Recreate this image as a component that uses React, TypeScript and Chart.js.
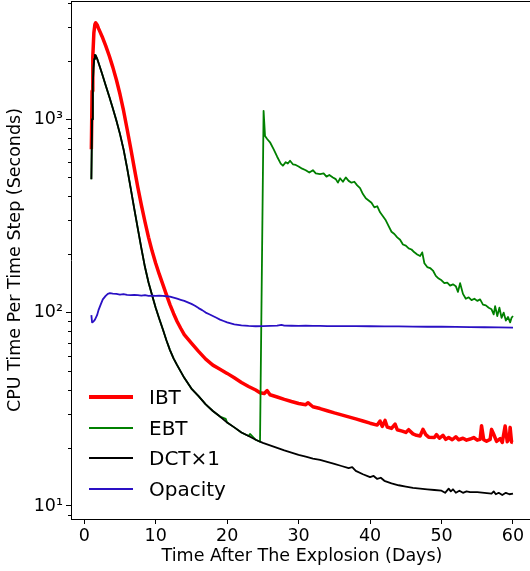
import React, { useEffect, useRef } from "react";
import { Chart, registerables } from "chart.js";

Chart.register(...registerables);

// ---------- data ----------
const ibtX = [1.0, 1.1, 1.2, 1.35, 1.5, 1.6, 1.8, 2.0, 2.5, 3.0, 3.5, 4.0, 4.5, 5.0, 5.5, 6.0, 6.5, 7.0, 7.5, 8.0, 8.5, 9.0, 9.5, 10, 10.5, 11, 11.5, 12, 12.5, 13, 13.5, 14, 15, 16, 17, 18, 19, 20, 21, 22, 23, 24, 24.6, 25.2, 25.6, 26, 27, 28, 29, 30, 31, 31.3, 32, 33, 34, 35, 36, 37, 38, 39, 40, 41, 41.4, 41.7, 42.1, 42.4, 43, 43.5, 43.8, 44.5, 45, 45.4, 46, 46.5, 47, 47.4, 47.8, 48.2, 49, 49.3, 49.7, 50.2, 50.6, 51, 51.5, 52, 52.4, 53, 53.5, 54, 54.5, 55, 55.4, 55.6, 55.9, 56.3, 56.8, 57.0, 57.3, 57.7, 58.2, 58.5, 58.9, 59.2, 59.5, 59.6, 59.8, 60];
const ibtY = [700, 1400, 2100, 2800, 3100, 3150, 3080, 2950, 2680, 2400, 2130, 1860, 1600, 1350, 1110, 890, 710, 560, 445, 360, 295, 245, 208, 180, 158, 140, 124, 110, 99, 90, 83, 77, 69.5, 63, 57.5, 53.5, 51, 48.5, 46, 43.5, 41.5, 39.8, 38.5, 38.2, 39.5, 37.6, 36.6, 35.6, 34.7, 33.9, 33.4, 34.2, 32.6, 31.9, 31.1, 30.3, 29.6, 28.9, 28.2, 27.5, 26.8, 26.2, 27.5, 25.8, 27.7, 25.6, 25.2, 26.5, 24.8, 24.4, 24.0, 24.8, 23.6, 23.2, 23.0, 24.9, 23.4, 22.7, 22.6, 23.4, 22.4, 23.2, 22.1, 22.6, 22.0, 22.8, 22.0, 22.4, 21.9, 22.2, 22.6, 21.9, 22.1, 26.0, 22.0, 21.6, 22.1, 24.9, 23.5, 21.6, 22.3, 21.3, 25.9, 21.5, 22.5, 25.5, 21.4, 21.3];

const ebtX = [1.0, 1.1, 1.2, 1.3, 1.4, 1.5, 1.6, 1.8, 2.0, 2.5, 3.0, 3.5, 4.0, 4.5, 5.0, 5.5, 6.0, 6.5, 7.0, 7.5, 8.0, 8.5, 9.0, 9.5, 10, 10.5, 11, 11.5, 12, 12.5, 13, 14, 15, 16, 17, 18, 19, 19.8, 20, 21, 22, 23, 23.2, 24, 24.6, 25.1, 25.3, 25.6, 26.0, 26.5, 27.0, 27.5, 27.8, 28.2, 28.5, 28.8, 29.2, 29.6, 30, 30.5, 31, 31.5, 32, 32.4, 33, 33.5, 33.9, 34.3, 34.8, 35.2, 35.5, 35.8, 36.2, 36.6, 37, 37.4, 37.8, 38.2, 38.6, 39, 39.4, 39.8, 40.2, 40.6, 41, 41.4, 41.8, 42.2, 42.6, 43, 43.4, 43.8, 44.2, 44.6, 45, 45.4, 45.8, 46.2, 46.6, 47, 47.3, 47.6, 48, 48.4, 48.8, 49.2, 49.6, 50, 50.4, 50.8, 51.2, 51.6, 52, 52.3, 52.6, 53, 53.4, 53.8, 54.2, 54.6, 55, 55.4, 55.8, 56.2, 56.6, 57, 57.3, 57.5, 57.8, 58.1, 58.4, 58.7, 59, 59.3, 59.6, 59.8, 60];
const ebtY = [490, 1000, 1500, 1850, 2050, 2150, 2140, 2060, 1960, 1720, 1500, 1310, 1140, 985, 840, 700, 560, 440, 345, 272, 215, 172, 143, 123, 106, 93, 82, 72, 64, 58, 53.5, 46, 40.5, 37, 33.5, 31, 29, 28.2, 27, 25.5, 24, 23, 23.6, 22, 21.5, 1105, 820, 790, 760, 700, 640, 590, 575, 600, 590, 610, 585, 580, 570, 555, 545, 530, 545, 525, 520, 525, 505, 515, 500, 490, 470, 495, 475, 500, 480, 470, 475, 455, 440, 410, 390, 380, 370, 350, 355, 330, 315, 300, 280, 262, 255, 245, 238, 225, 222, 215, 212, 205, 200, 196, 205, 180, 172, 170, 165, 155, 150, 147, 142, 143, 138, 140, 137, 128, 142, 125, 118, 120, 116, 118, 115, 117, 110, 109, 106, 104, 98, 108, 96, 106, 94, 100, 91, 95, 89, 94, 96];

const dctX = [1.0, 1.1, 1.2, 1.3, 1.4, 1.5, 1.6, 1.8, 2.0, 2.5, 3.0, 3.5, 4.0, 4.5, 5.0, 5.5, 6.0, 6.5, 7.0, 7.5, 8.0, 8.5, 9.0, 9.5, 10, 10.5, 11, 11.5, 12, 12.5, 13, 14, 15, 16, 17, 18, 19, 20, 21, 22, 23, 24, 24.6, 25, 26, 27, 28, 29, 30, 31, 32, 33, 34, 35, 36, 37, 37.5, 38, 39, 40, 40.5, 41, 41.5, 42, 43, 44, 45, 46, 47, 48, 49, 50, 50.5, 51, 51.3, 51.6, 52, 52.5, 53, 53.5, 54, 55, 56, 57, 57.3, 57.6, 58, 58.5, 59, 59.5, 60];
const dctY = [490, 1000, 1500, 1850, 2050, 2150, 2140, 2060, 1960, 1720, 1500, 1310, 1140, 985, 840, 700, 560, 440, 345, 272, 215, 172, 143, 123, 106, 93, 82, 72, 64, 58, 53.5, 46, 40.5, 37, 33.5, 31, 29, 27, 25.5, 24, 23, 22, 21.5, 21.2, 20.6, 20, 19.4, 18.9, 18.4, 18, 17.6, 17.3, 16.9, 16.5, 16.1, 15.7, 15.9, 15.2, 14.6, 14.1, 14.3, 13.8, 14.0, 13.5, 13.1, 12.8, 12.6, 12.4, 12.3, 12.2, 12.1, 12.0, 11.7, 12.3, 11.9, 12.2, 11.7, 12.0, 11.7, 11.9, 11.8, 11.8, 11.7, 11.6, 11.9, 11.5, 11.7, 11.4, 11.7, 11.5, 11.6];

const opaX = [1.0, 1.1, 1.3, 1.5, 1.8, 2.0, 2.3, 2.6, 3.0, 3.3, 3.6, 4, 4.5, 5, 5.5, 6, 6.5, 7, 7.5, 8, 8.5, 9, 9.5, 10, 10.5, 11, 11.5, 12, 12.5, 13, 13.5, 14, 14.5, 15, 15.5, 16, 16.5, 17, 17.5, 18, 18.5, 19, 19.5, 20, 20.5, 21, 22, 23, 24, 25, 26, 27, 27.6, 28, 29, 30, 31, 32, 33, 34, 36, 38, 40, 42, 44, 46, 48, 50, 52, 54, 56, 58, 60];
const opaY = [97, 89, 90, 92, 97, 103, 110, 117, 122, 125, 126, 125.5, 125, 124, 124.5, 123.5, 123, 123.5, 123, 122.5, 123, 122, 122.5, 122, 122.5, 122, 121.5, 121, 119.5, 118, 116.5, 115, 113, 111, 108.5, 105.5, 103, 100, 98, 96, 94, 92, 90.5, 89, 88, 87, 86, 85.3, 85, 85.2, 85.4, 85.6, 86.5, 85.6, 85.5, 85.4, 85.6, 85.3, 85.4, 85.2, 85.1, 85.2, 85.0, 84.9, 84.8, 84.7, 84.5, 84.5, 84.3, 84.2, 84.0, 83.8, 83.6];

const xTicks = [0, 10, 20, 30, 40, 50, 60];
const yTicks = [10, 100, 1000];
const yTickLabels = ["10¹", "10²", "10³"];
const yMinorTicks = [9, 20, 30, 40, 50, 60, 70, 80, 90, 200, 300, 400, 500, 600, 700, 800, 900, 2000, 3000, 4000];

const seriesNames = ["IBT", "EBT", "DCT×1", "Opacity"];
const seriesColors = ["#ff0000", "#008000", "#000000", "#2a10c4"];
const seriesWidths = [3.5, 1.8, 1.8, 1.8];
const legendWidths = [4, 2, 2, 2];

const FONT = "'DejaVu Sans', sans-serif";

function pts(xs: number[], ys: number[]) {
  return xs.map((x, i) => ({ x, y: ys[i] }));
}

const framePlugin = {
  id: "frame",
  afterDraw(chart: any) {
    const { ctx, chartArea } = chart;
    const y = chart.scales.y;
    ctx.save();
    ctx.strokeStyle = "#000";
    ctx.lineWidth = 1;
    ctx.beginPath();
    ctx.moveTo(chartArea.left, chartArea.top + 0.5);
    ctx.lineTo(chartArea.right, chartArea.top + 0.5);
    for (const v of yMinorTicks) {
      const py = Math.round(y.getPixelForValue(v)) + 0.5;
      if (py < chartArea.top || py > chartArea.bottom) continue;
      ctx.moveTo(chartArea.left - 3, py);
      ctx.lineTo(chartArea.left, py);
    }
    ctx.stroke();
    ctx.restore();
  },
};

export default function App() {
  const ref = useRef<HTMLCanvasElement>(null);

  useEffect(() => {
    if (!ref.current) return;
    const data = [pts(ibtX, ibtY), pts(ebtX, ebtY), pts(dctX, dctY), pts(opaX, opaY)];
    const chart = new Chart(ref.current, {
      type: "line",
      data: {
        datasets: data.map((d, i) => ({
          label: seriesNames[i],
          data: d,
          borderColor: seriesColors[i],
          backgroundColor: seriesColors[i],
          borderWidth: seriesWidths[i],
          pointRadius: 0,
          tension: 0,
          fill: false,
          borderJoinStyle: "round" as const,
          borderCapStyle: "butt" as const,
          order: 3 - i,
        })),
      },
      options: {
        responsive: false,
        devicePixelRatio: 1,
        animation: false,
        layout: { padding: { left: 0, top: 1, right: 7, bottom: 0 } },
        plugins: { legend: { display: false }, tooltip: { enabled: false } },
        scales: {
          x: {
            type: "linear",
            min: -1.85,
            max: 62.8,
            afterBuildTicks: (s: any) => {
              s.ticks = xTicks.map((value) => ({ value }));
            },
            afterFit: (s: any) => {
              s.height = 52;
              s.paddingLeft = 0;
              s.paddingRight = 0;
            },
            ticks: {
              color: "#000",
              font: { family: FONT, size: 17.5 },
              padding: 2,
              maxRotation: 0,
              autoSkip: false,
            },
            grid: {
              display: true,
              drawOnChartArea: false,
              drawTicks: true,
              tickLength: 5,
              tickColor: "#000",
            },
            border: { display: true, color: "#000", width: 1 },
            title: {
              display: true,
              text: "Time After The Explosion (Days)",
              color: "#000",
              font: { family: FONT, size: 17.5 },
              padding: { top: 0, bottom: 4 },
            },
          },
          y: {
            type: "logarithmic",
            min: 8.565,
            max: 4087,
            afterBuildTicks: (s: any) => {
              s.ticks = yTicks.map((value) => ({ value }));
            },
            afterFit: (s: any) => {
              s.width = 71;
              s.paddingTop = 0;
              s.paddingBottom = 0;
            },
            ticks: {
              color: "#000",
              font: { family: FONT, size: 17.5 },
              padding: 3,
              autoSkip: false,
              callback: (v: any) => {
                const i = yTicks.indexOf(Number(v));
                return i >= 0 ? yTickLabels[i] : "";
              },
            },
            grid: {
              display: true,
              drawOnChartArea: false,
              drawTicks: true,
              tickLength: 5,
              tickColor: "#000",
            },
            border: { display: true, color: "#000", width: 1 },
            title: {
              display: true,
              text: "CPU Time Per Time Step (Seconds)",
              color: "#000",
              font: { family: FONT, size: 17.5 },
              padding: { top: 5, bottom: 0 },
            },
          },
        },
      },
      plugins: [framePlugin],
    });
    return () => chart.destroy();
  }, []);

  const legendTops = [387, 417.5, 448, 478.5];

  return (
    <div
      style={{
        position: "fixed",
        left: 0,
        top: 0,
        width: 530,
        height: 571,
        overflow: "hidden",
        background: "#fff",
      }}
    >
      <canvas ref={ref} width={540} height={571} style={{ display: "block", width: 540, height: 571 }} />
      {seriesNames.map((name, i) => (
        <div
          key={name}
          style={{
            position: "absolute",
            left: 89,
            top: legendTops[i],
            height: 20,
            display: "block",
            fontFamily: FONT,
            fontSize: 20,
            lineHeight: "20px",
            color: "#000",
            whiteSpace: "nowrap",
          }}
        >
          <span
            style={{
              position: "absolute",
              left: 0,
              top: 10 - legendWidths[i] / 2,
              width: 44,
              height: legendWidths[i],
              background: seriesColors[i],
            }}
          />
          <span style={{ position: "absolute", left: 60, top: 0 }}>{name}</span>
        </div>
      ))}
    </div>
  );
}
